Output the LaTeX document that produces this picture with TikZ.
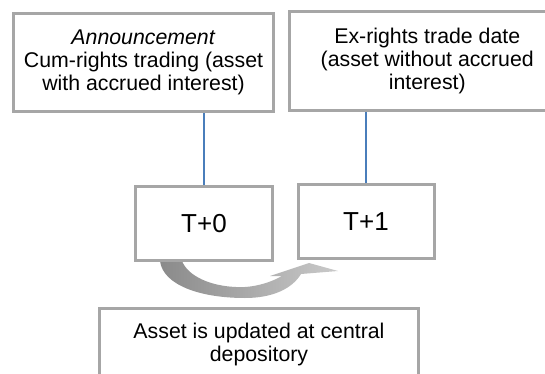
\documentclass[tikz,border=0pt]{standalone}
\usepackage{fontspec}
\setmainfont{Liberation Sans}
\usetikzlibrary{calc,backgrounds}
\definecolor{boxgray}{HTML}{A6A6A6}
\definecolor{linkblue}{HTML}{4A7EBB}
\definecolor{arrdark}{HTML}{8A8A8A}
\definecolor{arrlight}{HTML}{CACACA}
\tikzset{
  infobox/.style={draw=boxgray, line width=3pt, fill=white, align=center,
    font=\fontsize{21.3}{23}\selectfont, inner sep=0pt},
  daybox/.style={draw=boxgray, line width=3pt, fill=white, align=center,
    font=\fontsize{26}{30}\selectfont, inner sep=0pt,
    minimum width=137pt, minimum height=74pt},
  link/.style={draw=linkblue, line width=1.5pt}
}
\begin{document}
\begin{tikzpicture}[x=1pt,y=-1pt]
\clip (0,0) rectangle (545,374);
% top boxes
\node[infobox, minimum width=260pt, minimum height=98pt] (ann) at (143.5,62.5)
  {\textit{Announcement}\\Cum-rights trading (asset\\with accrued interest)};
\node[infobox, minimum width=275.5pt, minimum height=99pt] (exr) at (427.25,61)
  {Ex-rights trade date\\(asset without accrued\\interest)};
% day boxes
\node[daybox] (t0) at (204,223.5) {T+0};
\node[daybox, minimum width=136pt] (t1) at (366,221.5) {T+1};
% bottom box
\node[infobox, anchor=north, minimum width=319pt, inner ysep=15pt] (dep) at (259,306.5)
  {Asset is updated at central\\depository};
% links
\draw[link] (t0.north) -- (t0.north |- ann.south);
\draw[link] (t1.north) -- (t1.north |- exr.south);
% curved block arrow
\begin{scope}[on background layer]
\fill[white] (0,0) rectangle (545,374);
\shade[left color=arrdark, right color=arrlight]
  (160,261) .. controls (163,285) and (200,298) .. (245,298)
  .. controls (272,298) and (292,289) .. (301,274)
  -- (338,271) -- (309,263) -- (270,276) -- (282,276)
  .. controls (268,284) and (250,288) .. (236,287)
  .. controls (210,286) and (188,276) .. (182,261) -- cycle;
\end{scope}
\end{tikzpicture}
\end{document}
